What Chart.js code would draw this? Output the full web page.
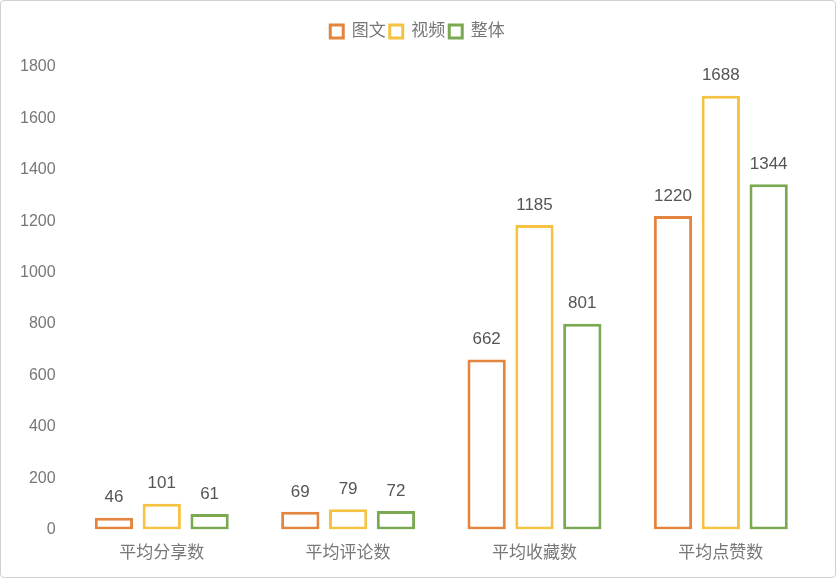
<!DOCTYPE html>
<html>
<head>
<meta charset="utf-8">
<script src="https://cdn.jsdelivr.net/npm/chart.js@4"></script>
<style>
    html, body { margin: 0; padding: 0; background: #fff; }
    #wrap {
        position: absolute; left: 0; top: 0;
        width: 834px; height: 576px;
        border: 1px solid #d0d0d0; border-radius: 4px;
    }
    canvas { display: block; }
</style>
</head>
<body>
<div id="wrap"><canvas id="chart" width="834" height="576"></canvas></div>
<script>
const categories = ['平均分享数', '平均评论数', '平均收藏数', '平均点赞数'];
const imageText = [46, 69, 662, 1220];
const video = [101, 79, 1185, 1688];
const overall = [61, 72, 801, 1344];

const FONT = '"Liberation Sans", Arial, "Noto Sans CJK SC", sans-serif';

const valueLabels = {
    id: 'valueLabels',
    afterDatasetsDraw(chart) {
        const ctx = chart.ctx;
        ctx.save();
        ctx.font = '17px ' + FONT;
        ctx.fillStyle = '#555';
        ctx.textAlign = 'center';
        ctx.textBaseline = 'middle';
        chart.data.datasets.forEach((ds, i) => {
            chart.getDatasetMeta(i).data.forEach((bar, j) => {
                ctx.fillText(ds.data[j], bar.x, bar.y - 20);
            });
        });
        ctx.restore();
    }
};

// extra room under the legend, and centre it on the whole canvas
const legendGap = {
    id: 'legendGap',
    beforeInit(chart) {
        const fit = chart.legend.fit;
        chart.legend.fit = function () {
            fit.bind(chart.legend)();
            this.height += 17;
        };
    },
    afterLayout(chart) {
        chart.legend.left += 3;
        chart.legend.right += 3;
    }
};

function series(label, data, color) {
    return {
        label, data,
        backgroundColor: '#fff',
        borderColor: color,
        borderWidth: 3,
        borderSkipped: false,
        categoryPercentage: 0.77,
        barPercentage: 0.80
    };
}

new Chart(document.getElementById('chart'), {
    type: 'bar',
    data: {
        labels: categories,
        datasets: [
            series('图文', imageText, '#E3843F'),
            series('视频', video, '#F6C242'),
            series('整体', overall, '#7AA951')
        ]
    },
    options: {
        responsive: false,
        animation: false,
        layout: { padding: { left: 14, right: 21, top: 18, bottom: 7 } },
        plugins: {
            legend: {
                display: true,
                labels: {
                    boxWidth: 13, boxHeight: 13, padding: 4,
                    color: '#777',
                    font: { size: 17, family: FONT },
                    generateLabels(chart) {
                        return chart.data.datasets.map((ds, i) => ({
                            text: ds.label,
                            fillStyle: '#fff',
                            strokeStyle: ds.borderColor,
                            lineWidth: 3,
                            fontColor: '#777',
                            datasetIndex: i
                        }));
                    }
                }
            },
            tooltip: { enabled: false }
        },
        scales: {
            y: {
                min: 0, max: 1800,
                ticks: { stepSize: 200, color: '#777', padding: 5, font: { size: 16, family: FONT },
                         callback: (v) => String(v) },
                grid: { display: false },
                border: { display: false }
            },
            x: {
                ticks: { color: '#777', padding: 6, font: { size: 17, family: FONT } },
                grid: { display: false },
                border: { display: false }
            }
        }
    },
    plugins: [valueLabels, legendGap]
});
</script>
</body>
</html>
